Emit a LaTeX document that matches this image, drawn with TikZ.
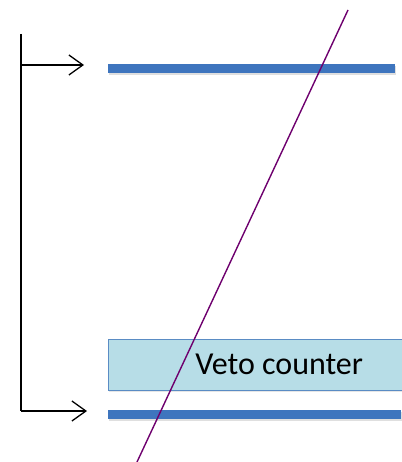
\documentclass[tikz,border=0pt]{standalone}
\usepackage{fontspec}
\setmainfont{Carlito}
\definecolor{barblue}{RGB}{62,117,190}
\definecolor{vetofill}{RGB}{183,221,231}
\definecolor{vetoline}{RGB}{90,140,196}
\definecolor{track}{RGB}{110,0,110}
\usetikzlibrary{arrows.meta,positioning,shadows}
\tikzset{
  plane/.style={fill=barblue,draw=none,minimum width=287pt,minimum height=9pt,inner sep=0pt,
                drop shadow={shadow xshift=1pt,shadow yshift=-2pt,opacity=0.25}},
  veto/.style={draw=vetoline,fill=vetofill,minimum width=300pt,minimum height=51pt,inner sep=0pt,
               anchor=north west,font=\fontsize{32}{36}\selectfont,
               drop shadow={shadow xshift=1pt,shadow yshift=-2pt,opacity=0.2}},
  arr/.style={-{Straight Barb[length=14pt,width=20pt,line width=1.3pt]},line width=1.3pt},
  ray/.style={draw=track,line width=1.4pt},
}

\begin{document}
\begin{tikzpicture}[x=1pt,y=-1pt]
    \useasboundingbox (0,0) rectangle (401,462);
    \node[plane,anchor=west] (top) at (108,69) {};
    \node[plane,anchor=west,minimum width=293pt] (bottom) at (108,414) {};
    \node[veto] (vc) at (108,339) {\hspace*{42pt}Veto counter};
    \coordinate (vtop) at (21,34);
    \coordinate (vbot) at (21,411);
    \draw[line width=1.3pt] (vtop) -- (vbot);
    \draw[arr] (21,65) -- ([xshift=-24pt,yshift=4pt]top.west);
    \draw[arr] (vbot) -- ([xshift=-21pt,yshift=3pt]bottom.west);
    \coordinate (rayA) at (348,10);
    \coordinate (rayB) at (137,462);
    \draw[ray] (rayA) -- (rayB);
\end{tikzpicture}
\end{document}
